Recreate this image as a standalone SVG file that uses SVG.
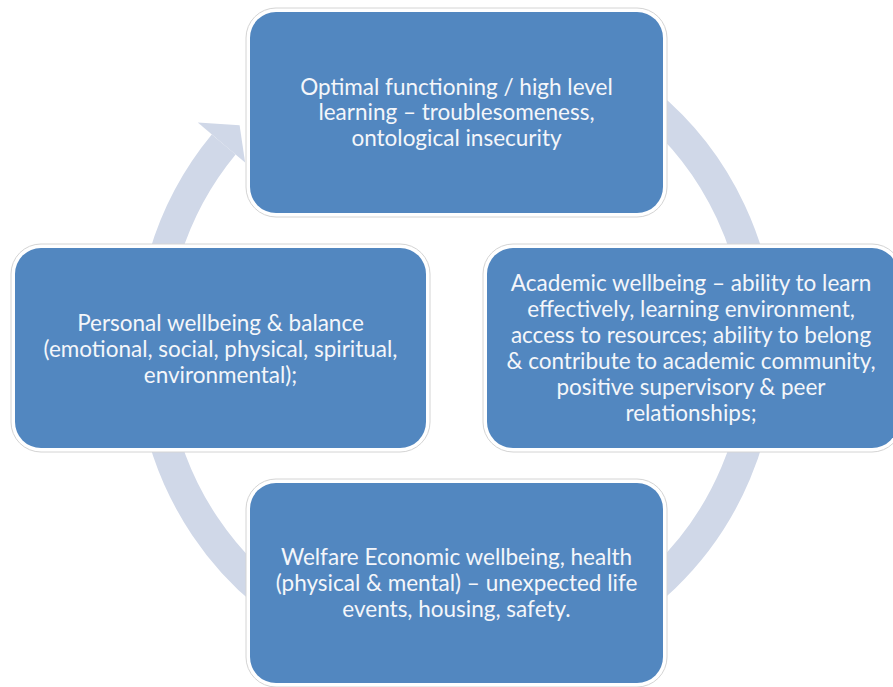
<svg xmlns="http://www.w3.org/2000/svg" width="893" height="687" viewBox="0 0 893 687">
  <style>
    .ring { fill: none; stroke: #D0D8E8; stroke-width: 31; }
    .head { fill: #D0D8E8; }
    .halo { fill: #FFFFFF; stroke: #D4D4D4; stroke-width: 1; }
    .box { fill: #5287C0; }
    .lbl { font-family: "Lato", "Open Sans", "Liberation Sans", sans-serif; font-size: 22.5px; fill: #F4F6FA; text-anchor: middle; }
  </style>
  <rect width="893" height="687" fill="#FFFFFF"/>
  <g id="connectors">
    <path class="ring" d="M 534.9 44.7 A 305 314 0 1 1 223.7 144.5"/>
    <polygon class="head" points="197.8,122.5 239.6,125.2 245.1,162.6 223.7,144.5"/>
  </g>
  <g id="node-top">
    <rect class="halo" x="246" y="8" width="421" height="209" rx="30"/>
    <rect class="box" x="250" y="12" width="413" height="201" rx="26"/>
    <text class="lbl" x="456.5" y="95">Optimal functioning / high level</text>
    <text class="lbl" x="456.5" y="120">learning – troublesomeness,</text>
    <text class="lbl" x="456.5" y="146">ontological insecurity</text>
  </g>
  <g id="node-left">
    <rect class="halo" x="11" y="244" width="419" height="208" rx="30"/>
    <rect class="box" x="15" y="248" width="411" height="200" rx="26"/>
    <text class="lbl" x="220.5" y="331">Personal wellbeing &amp; balance</text>
    <text class="lbl" x="220.5" y="357">(emotional, social, physical, spiritual,</text>
    <text class="lbl" x="220.5" y="383">environmental);</text>
  </g>
  <g id="node-right">
    <rect class="halo" x="483" y="244" width="419" height="208" rx="30"/>
    <rect class="box" x="487" y="248" width="411" height="200" rx="26"/>
    <text class="lbl" x="691" y="291">Academic wellbeing – ability to learn</text>
    <text class="lbl" x="691" y="317">effectively, learning environment,</text>
    <text class="lbl" x="691" y="343">access to resources; ability to belong</text>
    <text class="lbl" x="691" y="369">&amp; contribute to academic community,</text>
    <text class="lbl" x="691" y="395">positive supervisory &amp; peer</text>
    <text class="lbl" x="691" y="421">relationships;</text>
  </g>
  <g id="node-bottom">
    <rect class="halo" x="246" y="479" width="421" height="208" rx="30"/>
    <rect class="box" x="250" y="483" width="413" height="200" rx="26"/>
    <text class="lbl" x="456.5" y="565">Welfare Economic wellbeing, health</text>
    <text class="lbl" x="456.5" y="591">(physical &amp; mental) – unexpected life</text>
    <text class="lbl" x="456.5" y="617">events, housing, safety.</text>
  </g>
</svg>
